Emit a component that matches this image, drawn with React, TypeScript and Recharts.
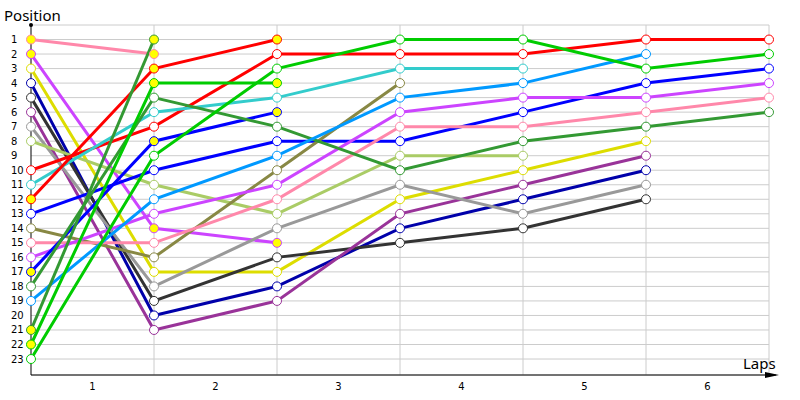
import { LineChart, Line, XAxis, YAxis, CartesianGrid, ReferenceLine } from 'recharts';

// laps 0..6, position of each driver after each lap (null = out of the race)
const laps = [0, 1, 2, 3, 4, 5, 6];
const lapLabels = ['1', '2', '3', '4', '5', '6'];
const positionTicks = Array.from({ length: 23 }, (_, i) => i + 1);

const pinkOut = [1, 2, null, null, null, null, null];
const violetOut = [2, 14, 15, null, null, null, null];
const yellow = [3, 17, 17, 12, 10, 8, null];
const navy = [4, 20, 18, 14, 12, 10, null];
const black = [5, 19, 16, 15, 14, 12, null];
const purple = [6, 21, 19, 13, 11, 9, null];
const gray = [7, 18, 14, 11, 13, 11, null];
const lightGreen = [8, 11, 13, 9, 9, null, null];
const red = [10, 7, 2, 2, 2, 1, 1];
const cyan = [11, 6, 5, 3, 3, null, null];
const redOut = [12, 3, 1, null, null, null, null];
const blue = [13, 10, 8, 8, 6, 4, 3];
const olive = [14, 16, 10, 4, null, null, null];
const pink = [15, 15, 12, 7, 7, 6, 5];
const violet = [16, 13, 11, 6, 5, 5, 4];
const blueOut = [17, 8, 6, null, null, null, null];
const forest = [18, 5, 7, 10, 8, 7, 6];
const lightBlue = [19, 12, 9, 5, 4, 2, null];
const forestOut = [21, 1, null, null, null, null, null];
const greenOut = [22, 4, 4, null, null, null, null];
const green = [23, 9, 3, 1, 1, 3, 2];

const drivers = [
  { key: 'pinkOut', values: pinkOut, color: '#ff88aa', out: true },
  { key: 'violetOut', values: violetOut, color: '#cc44ff', out: true },
  { key: 'yellow', values: yellow, color: '#dddd00', out: false },
  { key: 'navy', values: navy, color: '#0000aa', out: false },
  { key: 'black', values: black, color: '#333333', out: false },
  { key: 'purple', values: purple, color: '#993399', out: false },
  { key: 'gray', values: gray, color: '#999999', out: false },
  { key: 'lightGreen', values: lightGreen, color: '#aacc66', out: false },
  { key: 'red', values: red, color: '#ff0000', out: false },
  { key: 'cyan', values: cyan, color: '#33cccc', out: false },
  { key: 'redOut', values: redOut, color: '#ff0000', out: true },
  { key: 'blue', values: blue, color: '#0000ff', out: false },
  { key: 'olive', values: olive, color: '#888844', out: false },
  { key: 'pink', values: pink, color: '#ff88aa', out: false },
  { key: 'violet', values: violet, color: '#cc44ff', out: false },
  { key: 'blueOut', values: blueOut, color: '#0000ff', out: true },
  { key: 'forest', values: forest, color: '#339933', out: false },
  { key: 'lightBlue', values: lightBlue, color: '#0099ff', out: false },
  { key: 'forestOut', values: forestOut, color: '#339933', out: true },
  { key: 'greenOut', values: greenOut, color: '#00cc00', out: true },
  { key: 'green', values: green, color: '#00cc00', out: false },
];

const data = laps.map((lap, i) => {
  const row: Record<string, number | null> = { lap };
  drivers.forEach((d) => {
    row[d.key] = d.values[i];
  });
  return row;
});

const tickFont = { fontFamily: 'DejaVu Sans', fontSize: 10, fill: '#000' };

const LeftTick = (props: any) => (
  <text x={props.x - 12} y={props.y} dy="0.35em" textAnchor="start" {...tickFont}>
    {props.payload.value}
  </text>
);

export default function App() {
  return (
    <div style={{ position: 'absolute', left: 0, top: 0, width: 800, height: 400, background: '#fff' }}>
      <LineChart width={800} height={400} data={data} margin={{ top: 25, right: 0, bottom: 0, left: 0 }}>
        <CartesianGrid vertical={false} stroke="#cccccc" yAxisId="left" />
        {laps.slice(1).map((lap) => (
          <ReferenceLine key={lap} x={lap} yAxisId="left" stroke="#cccccc" />
        ))}
        <XAxis
          dataKey="lap"
          type="number"
          domain={[0, 6]}
          ticks={lapLabels.map((_, i) => i + 0.5)}
          tickFormatter={(v) => lapLabels[Math.floor(v)]}
          height={25}
          axisLine={{ stroke: '#000' }}
          tickLine={false}
          tick={tickFont}
        />
        <YAxis
          yAxisId="left"
          type="number"
          domain={[0, 24.1]}
          reversed
          ticks={positionTicks}
          width={31}
          axisLine={{ stroke: '#000' }}
          tickLine={false}
          tick={<LeftTick />}
          interval={0}
        />
        <YAxis
          yAxisId="right"
          orientation="right"
          type="number"
          domain={[0, 24.1]}
          reversed
          ticks={positionTicks}
          width={31}
          axisLine={false}
          tickLine={false}
          tick={tickFont}
          interval={0}
        />
        {drivers.map((d) => (
          <Line
            key={d.key}
            yAxisId="left"
            type="linear"
            dataKey={d.key}
            stroke={d.color}
            strokeWidth={3}
            dot={{ r: 4.5, fill: d.out ? '#ffff00' : '#ffffff', stroke: d.color, strokeWidth: 1 }}
            isAnimationActive={false}
          />
        ))}
      </LineChart>
      <svg width={800} height={400} style={{ position: 'absolute', left: 0, top: 0, pointerEvents: 'none' }}>
        <circle cx={31} cy={25} r={2} fill="#000" />
        <line x1={769} y1={375} x2={776} y2={375} stroke="#000" />
        <polygon points="765,372 779,375 765,378" fill="#000" />
        <text x={4} y={21} fontFamily="Noto Sans" fontSize={15} fill="#000">Position</text>
        <text x={743} y={369} fontFamily="Noto Sans" fontSize={15} fill="#000">Laps</text>
      </svg>
    </div>
  );
}
